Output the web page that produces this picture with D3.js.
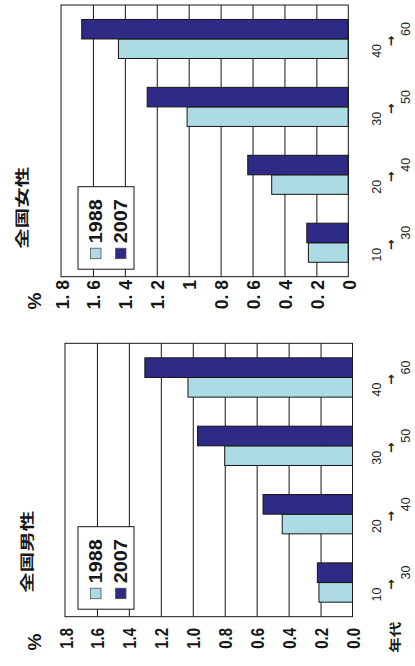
<!DOCTYPE html>
<html><head><meta charset="utf-8">
<script src="https://cdn.jsdelivr.net/npm/d3@7"></script>
<style>html,body{margin:0;padding:0;background:#fff;} svg{display:block}</style>
</head><body><svg id="c" width="415" height="666"></svg>
<script>
// Age bands: age at the start → age twenty years later
const groupFrom = ["10", "20", "30", "40"];
const groupTo = ["30", "40", "50", "60"];
const years = ["1988", "2007"];

// Share (%) per band, men
const male1988 = [0.21, 0.44, 0.80, 1.03];
const male2007 = [0.22, 0.56, 0.97, 1.30];
// Share (%) per band, women
const female1988 = [0.25, 0.48, 1.01, 1.44];
const female2007 = [0.26, 0.63, 1.26, 1.67];

const valueTicks = [0, 0.2, 0.4, 0.6, 0.8, 1.0, 1.2, 1.4, 1.6, 1.8];
const maleTickLabels = ["0.0", "0.2", "0.4", "0.6", "0.8", "1.0", "1.2", "1.4", "1.6", "1.8"];
const femaleTickLabels = ["0", "0. 2", "0. 4", "0. 6", "0. 8", "1", "1. 2", "1. 4", "1. 6", "1. 8"];

const yearColors = ["#acdbe4", "#2f2a83"];
const ink = "#161616";
const latin = "'Liberation Sans', Arial, 'DejaVu Sans', sans-serif";
const cjk = "'Noto Sans CJK JP', 'Noto Sans CJK SC', sans-serif";

const svg = d3.select("#c");
// Both panels are laid out as upright column charts, then the sheet is turned a quarter turn.
const root = svg.append("g").attr("transform", "translate(0,666) rotate(-90)");

function panel(o) {
  const g = root.append("g");
  const x = d3.scaleBand().domain(groupFrom).range([o.x0, o.x1])
    .paddingInner(0.425).paddingOuter(0.2125);
  const xs = d3.scaleBand().domain(years).range([0, x.bandwidth()]);
  const y = d3.scaleLinear().domain([0, 1.8]).range([o.yBottom, o.yTop]);

  // horizontal gridlines
  const grid = g.append("g").attr("transform", `translate(${o.x0},0)`)
    .call(d3.axisLeft(y).tickValues(valueTicks.slice(1, -1)).tickSize(-(o.x1 - o.x0)).tickFormat(""));
  grid.select(".domain").remove();
  grid.selectAll("line").attr("stroke", ink).attr("stroke-width", 1);

  // bars
  const rows = groupFrom.map((k, i) => ({ k, vals: [o.s1988[i], o.s2007[i]] }));
  const grp = g.append("g").selectAll("g").data(rows).join("g")
    .attr("transform", d => `translate(${x(d.k)},0)`);
  grp.selectAll("rect").data(d => d.vals.map((v, j) => ({ year: years[j], v, j }))).join("rect")
    .attr("x", d => xs(d.year))
    .attr("width", xs.bandwidth())
    .attr("y", d => y(d.v))
    .attr("height", d => y(0) - y(d.v))
    .attr("fill", d => yearColors[d.j])
    .attr("stroke", ink).attr("stroke-width", 1);

  // plot frame
  g.append("rect").attr("x", o.x0).attr("y", o.yTop)
    .attr("width", o.x1 - o.x0).attr("height", o.yBottom - o.yTop)
    .attr("fill", "none").attr("stroke", ink).attr("stroke-width", 1);

  // value labels
  const ax = g.append("g").attr("transform", `translate(${o.tickEnd},0)`)
    .call(d3.axisLeft(y).tickValues(valueTicks).tickFormat((d, i) => o.tickLabels[i]).tickSize(0).tickPadding(0));
  ax.select(".domain").remove();
  ax.selectAll("text")
    .attr("x", 0).attr("dy", null).attr("y", 7)
    .attr("transform", `scale(${o.tickScaleX},1)`)
    .attr("font-family", latin).attr("font-weight", "bold").attr("font-size", 17.5)
    .attr("fill", ink).attr("text-anchor", "end");

  // unit
  g.append("text").attr("x", o.pctX).attr("y", o.pctY)
    .attr("font-family", latin).attr("font-weight", "bold").attr("font-size", 19)
    .attr("fill", ink).attr("text-anchor", "middle").text("%");

  // title
  g.append("text").attr("transform", `translate(${o.x0 + o.titleDx},${o.titleY}) scale(1,0.68)`)
    .attr("font-family", cjk).attr("font-weight", "bold").attr("font-size", 20.5)
    .attr("fill", ink).text(o.title);

  // band labels: "from → to" in a stepped layout
  const lab = g.append("g").selectAll("g").data(groupFrom).join("g")
    .attr("transform", d => `translate(${x(d) + x.bandwidth() / 2},0)`)
    .attr("font-family", latin).attr("font-size", 12.5).attr("fill", "#222");
  lab.append("text").attr("x", -5).attr("y", 381).attr("text-anchor", "end").text(d => d);
  lab.append("text").attr("x", -2).attr("y", 395).attr("text-anchor", "middle")
    .attr("font-family", "'DejaVu Sans', sans-serif").attr("font-size", 12.5).attr("font-weight", "bold").text("→");
  lab.append("text").attr("x", 3).attr("y", 410).attr("text-anchor", "start").text((d, i) => groupTo[i]);

  if (o.showAgeUnit) {
    g.append("text").attr("transform", `translate(${o.x0 - 36},400) scale(1,0.8)`)
      .attr("font-family", cjk).attr("font-weight", "bold").attr("font-size", 15.5)
      .attr("fill", ink).text("年代");
  }

  // legend
  const lg = g.append("g").attr("transform", `translate(${o.x0},0)`);
  lg.append("rect").attr("x", 7.5).attr("y", 78).attr("width", 82.5).attr("height", 56)
    .attr("fill", "#fff").attr("stroke", ink).attr("stroke-width", 1);
  years.forEach((yr, j) => {
    const by = j === 0 ? 101.7 : 126.7;
    lg.append("rect").attr("x", 18).attr("y", by - 11.2).attr("width", 10.5).attr("height", 10.5)
      .attr("fill", yearColors[j]).attr("stroke", "#555").attr("stroke-width", 0.8);
    lg.append("text").attr("transform", `translate(33.5,${by}) scale(1.1,1)`)
      .attr("font-family", latin).attr("font-weight", "bold").attr("font-size", 18)
      .attr("fill", ink).text(yr);
  });
}

panel({
  x0: 49.3, x1: 322.7, yTop: 65, yBottom: 352.5,
  s1988: male1988, s2007: male2007,
  title: "全国男性", titleDx: 24, titleY: 32,
  tickLabels: maleTickLabels, tickEnd: 38, tickScaleX: 0.85,
  pctX: 24, pctY: 41, showAgeUnit: true
});

panel({
  x0: 389.3, x1: 661, yTop: 61, yBottom: 348.3,
  s1988: female1988, s2007: female2007,
  title: "全国女性", titleDx: 28, titleY: 27,
  tickLabels: femaleTickLabels, tickEnd: 386, tickScaleX: 1,
  pctX: 365, pctY: 41, showAgeUnit: false
});
</script>
</body></html>
